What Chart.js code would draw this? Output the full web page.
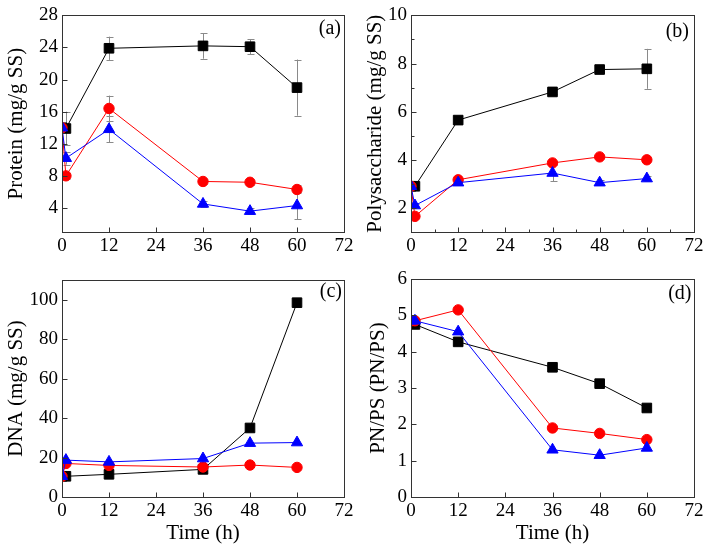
<!DOCTYPE html>
<html><head><meta charset="utf-8">
<script src="https://cdn.jsdelivr.net/npm/chart.js@4/dist/chart.umd.min.js"></script>
<style>
body{margin:0;background:#fff;width:708px;height:551px;position:relative;overflow:hidden}
canvas{position:absolute;left:0;top:0}
</style></head>
<body>
<canvas id="pa" width="708" height="551"></canvas>
<canvas id="pb" width="708" height="551"></canvas>
<canvas id="pc" width="708" height="551"></canvas>
<canvas id="pd" width="708" height="551"></canvas>
<script>
// ---- data ----
const times = [0, 1, 12, 36, 48, 60];
const xTicks = [0, 12, 24, 36, 48, 60, 72];

const proteinBlack = [14.0, 13.9, 23.9, 24.2, 24.1, 19.0];
const proteinRed   = [14.0, 8.0, 16.4, 7.3, 7.2, 6.3];
const proteinBlue  = [14.0, 10.2, 13.8, 4.5, 3.6, 4.3];
const proteinBlackErr = [0, 2.1, 1.45, 1.6, 0.95, 3.5];
const proteinRedErr   = [0, 0.4, 1.6, 0.3, 0.3, 0.5];
const proteinBlueErr  = [0, 0.8, 1.6, 0.4, 0.4, 1.7];
const proteinTicks = [4, 8, 12, 16, 20, 24, 28];

const polyBlack = [2.9, 2.9, 5.65, 6.82, 7.75, 7.78];
const polyRed   = [2.9, 1.65, 3.17, 3.87, 4.12, 4.0];
const polyBlue  = [2.9, 2.1, 3.05, 3.45, 3.05, 3.22];
const polyBlackErr = [0, 0.05, 0.05, 0.08, 0.1, 0.83];
const polyRedErr   = [0, 0.05, 0.05, 0.05, 0.05, 0.05];
const polyBlueErr  = [0, 0.05, 0.08, 0.35, 0.1, 0.1];
const polyTicks = [2, 4, 6, 8, 10];
const polyMinor = [3, 5, 7, 9];

const dnaBlack = [10.5, 10.5, 11.5, 14.0, 35.0, 98.5];
const dnaRed   = [10.5, 17.0, 16.0, 15.2, 16.2, 15.0];
const dnaBlue  = [10.5, 18.7, 17.8, 19.5, 27.3, 27.6];
const dnaTicks = [0, 20, 40, 60, 80, 100];

const ratioBlack = [4.8, 4.75, 4.27, 3.57, 3.12, 2.45];
const ratioRed   = [4.85, 4.85, 5.15, 1.9, 1.75, 1.58];
const ratioBlue  = [4.85, 4.85, 4.55, 1.3, 1.15, 1.35];
const ratioTicks = [0, 1, 2, 3, 4, 5, 6];

// ---- helpers ----
const FONT = 'Liberation Serif';
Chart.defaults.font.family = FONT;
Chart.defaults.font.weight = 'normal';
Chart.defaults.font.style = 'normal';
const BLACK = '#000000', RED = '#ff0000', BLUE = '#0000ff';

function series(vals, color, style, radius) {
  return {
    data: times.map((t, i) => ({x: t, y: vals[i]})),
    borderColor: color, backgroundColor: color,
    pointBackgroundColor: color, pointBorderColor: color,
    pointStyle: style, pointRadius: radius, pointHoverRadius: radius,
    pointBorderWidth: 1, borderWidth: 1, tension: 0, showLine: true
  };
}

const framePlugin = {
  id: 'frame',
  beforeDatasetsDraw(chart, args, o) {
    const ctx = chart.ctx, xs = chart.scales.x, ys = chart.scales.y;
    if (!o.errs) return;
    ctx.save();
    ctx.strokeStyle = '#8a8a8a';
    ctx.lineWidth = 1;
    o.errs.forEach((pair) => {
      const vals = pair[0], errs = pair[1];
      times.forEach((t, i) => {
        if (!errs[i]) return;
        const px = Math.round(xs.getPixelForValue(t)) + 0.5;
        const y1 = ys.getPixelForValue(vals[i] + errs[i]);
        const y2 = ys.getPixelForValue(vals[i] - errs[i]);
        ctx.beginPath();
        ctx.moveTo(px, y1); ctx.lineTo(px, y2);
        ctx.moveTo(px - 3, Math.round(y1) + 0.5); ctx.lineTo(px + 4, Math.round(y1) + 0.5);
        ctx.moveTo(px - 3, Math.round(y2) + 0.5); ctx.lineTo(px + 4, Math.round(y2) + 0.5);
        ctx.stroke();
      });
    });
    ctx.restore();
  },
  afterDraw(chart, args, o) {
    const ctx = chart.ctx, a = chart.chartArea, xs = chart.scales.x, ys = chart.scales.y;
    ctx.save();
    ctx.strokeStyle = '#333333';
    ctx.lineWidth = 1;
    const L = Math.round(a.left) + 0.5, R = Math.round(a.right) + 0.5;
    const T = Math.round(a.top) + 0.5, B = Math.round(a.bottom) + 0.5;
    ctx.strokeRect(L, T, R - L, B - T);
    ctx.beginPath();
    xTicks.forEach(v => {
      const px = Math.round(xs.getPixelForValue(v)) + 0.5;
      ctx.moveTo(px, B); ctx.lineTo(px, B - 5);
    });
    o.yTicks.forEach(v => {
      const py = Math.round(ys.getPixelForValue(v)) + 0.5;
      ctx.moveTo(L, py); ctx.lineTo(L + 5, py);
    });
    (o.xMinor || []).forEach(v => {
      const px = Math.round(xs.getPixelForValue(v)) + 0.5;
      ctx.moveTo(px, B); ctx.lineTo(px, B - 3);
    });
    (o.yMinor || []).forEach(v => {
      const py = Math.round(ys.getPixelForValue(v)) + 0.5;
      ctx.moveTo(L, py); ctx.lineTo(L + 3, py);
    });
    ctx.stroke();
    ctx.fillStyle = '#000';
    ctx.font = 'normal 20px "' + FONT + '"';
    ctx.textAlign = 'right';
    ctx.textBaseline = 'middle';
    ctx.fillText(o.label, a.right - o.labelDx, a.top + o.labelDy);
    ctx.restore();
  }
};

function makePanel(id, p) {
  const tickFont = {family: FONT, size: 19, weight: 'normal', style: 'normal'};
  const titleFont = {family: FONT, size: 21, weight: 'normal', style: 'normal'};
  new Chart(document.getElementById(id), {
    type: 'scatter',
    data: {datasets: [
      series(p.blue, BLUE, 'triangle', 6.5),
      series(p.red, RED, 'circle', 5.2),
      series(p.black, BLACK, 'rect', 6.8)
    ]},
    options: {
      responsive: false, animation: false, devicePixelRatio: 1,
      layout: {padding: {left: p.padL, right: p.padR, top: p.padT, bottom: p.padB}},
      plugins: {legend: {display: false}, tooltip: {enabled: false},
        frame: {label: p.label, labelDx: p.labelDx, labelDy: p.labelDy, yTicks: p.yTicks,
                xMinor: p.xMinor, yMinor: p.yMinor, errs: p.errs}},
      scales: {
        x: {
          type: 'linear', min: 0, max: 72,
          grid: {display: false, drawTicks: false}, border: {display: false},
          afterBuildTicks: s => { s.ticks = xTicks.map(v => ({value: v})); },
          afterFit: s => { s.height = p.xH; },
          ticks: {font: tickFont, color: '#000', padding: 3, maxRotation: 0, autoSkip: false},
          title: {display: !!p.xTitle, text: p.xTitle || '', font: titleFont, color: '#000',
                  padding: {top: 0, bottom: 5}}
        },
        y: {
          type: 'linear', min: p.yMin, max: p.yMax,
          grid: {display: false, drawTicks: false}, border: {display: false},
          afterBuildTicks: s => { s.ticks = p.yTicks.map(v => ({value: v})); },
          afterFit: s => { s.width = p.yW; },
          ticks: {font: tickFont, color: '#000', padding: 4, autoSkip: false},
          title: {display: true, text: p.yTitle, font: titleFont, color: '#000',
                  padding: {top: p.yTitlePad, bottom: 0}}
        }
      }
    },
    plugins: [framePlugin]
  });
}

makePanel('pa', {
  black: proteinBlack, red: proteinRed, blue: proteinBlue,
  errs: [[proteinBlack, proteinBlackErr], [proteinRed, proteinRedErr], [proteinBlue, proteinBlueErr]],
  yMin: 1, yMax: 28, yTicks: proteinTicks, yTitle: 'Protein (mg/g SS)', yTitlePad: 3.4,
  padL: 0, yW: 62, padR: 364, padT: 14, padB: 275, xH: 44, label: '(a)', labelDx: 3, labelDy: 13
});
makePanel('pb', {
  black: polyBlack, red: polyRed, blue: polyBlue,
  errs: [[polyBlack, polyBlackErr], [polyRed, polyRedErr], [polyBlue, polyBlueErr]],
  yMin: 1, yMax: 10, yTicks: polyTicks, yMinor: polyMinor, xMinor: [6, 18, 30, 42, 54, 66],
  yTitle: 'Polysaccharide (mg/g SS)', yTitlePad: 8.4,
  padL: 354, yW: 57, padR: 14, padT: 14, padB: 275, xH: 44, label: '(b)', labelDx: 5, labelDy: 16
});
makePanel('pc', {
  black: dnaBlack, red: dnaRed, blue: dnaBlue,
  yMin: 0, yMax: 110, yTicks: dnaTicks, yTitle: 'DNA (mg/g SS)', yTitlePad: 3.9, xTitle: 'Time (h)',
  padL: 0, yW: 62, padR: 364, padT: 280, padB: 0, xH: 54, label: '(c)', labelDx: 2, labelDy: 12
});
makePanel('pd', {
  black: ratioBlack, red: ratioRed, blue: ratioBlue,
  yMin: 0, yMax: 6, yTicks: ratioTicks, yTitle: 'PN/PS (PN/PS)', yTitlePad: 12, xTitle: 'Time (h)',
  padL: 354, yW: 57, padR: 14, padT: 279, padB: 0, xH: 54, label: '(d)', labelDx: 2.5, labelDy: 14.5
});
</script>
</body></html>
